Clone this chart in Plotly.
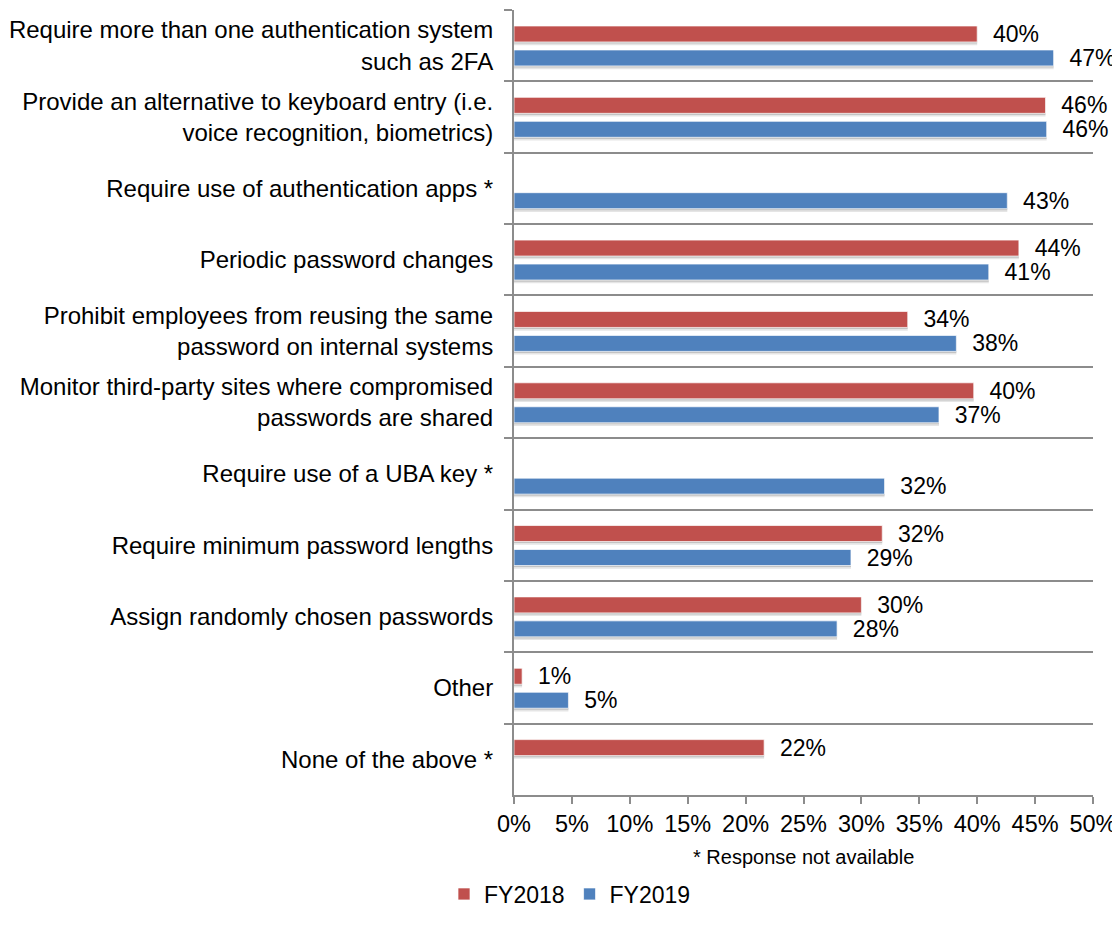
import plotly.graph_objects as go

categories = [
    "Require more than one authentication system<br>such as 2FA",
    "Provide an alternative to keyboard entry (i.e.<br>voice recognition, biometrics)",
    "Require use of authentication apps *",
    "Periodic password changes",
    "Prohibit employees from reusing the same<br>password on internal systems",
    "Monitor third-party sites where compromised<br>passwords are shared",
    "Require use of a UBA key *",
    "Require minimum password lengths",
    "Assign randomly chosen passwords",
    "Other",
    "None of the above *",
]
fy2018 = [40.0, 45.9, None, 43.6, 34.0, 39.7, None, 31.8, 30.0, 0.7, 21.6]
fy2019 = [46.6, 46.0, 42.6, 41.0, 38.2, 36.7, 32.0, 29.1, 27.9, 4.7, None]
x_ticks = [0, 5, 10, 15, 20, 25, 30, 35, 40, 45, 50]
x_tick_labels = [f"{t}%" for t in x_ticks]

RED = "#C0504D"
BLUE = "#4F81BD"
GRID = "#8C8C8C"
FONT = "Liberation Sans, Arial, sans-serif"

BAR_W = 0.224
RED_OFF = -0.276
BLUE_OFF = 0.06
SH = 0.045

W, H = 1112, 926

fig = go.Figure()

# soft shadows
for vals, off in ((fy2018, RED_OFF), (fy2019, BLUE_OFF)):
    for dy, col in ((SH, "rgba(0,0,0,0.10)"), (SH * 0.5, "rgba(0,0,0,0.15)")):
        fig.add_trace(go.Bar(
            y=categories, x=vals, orientation="h",
            offset=off + dy, width=BAR_W,
            marker=dict(color=col, line=dict(width=0)),
            showlegend=False, hoverinfo="skip",
        ))

for name, vals, off, col in (("FY2018", fy2018, RED_OFF, RED),
                             ("FY2019", fy2019, BLUE_OFF, BLUE)):
    fig.add_trace(go.Bar(
        name=name, y=categories, x=vals, orientation="h",
        offset=off, width=BAR_W,
        marker=dict(color=col, line=dict(color="rgba(255,255,255,0.7)", width=1)),
        text=[("\u00a0\u00a0" + f"{v:.0f}%") if v is not None else "" for v in vals],
        textposition="outside", constraintext="none", cliponaxis=False,
        textfont=dict(size=23, color="#000000", family=FONT),
    ))

fig.update_layout(
    width=W, height=H,
    margin=dict(l=506, r=27, t=2, b=139, autoexpand=False),
    barmode="overlay",
    plot_bgcolor="white", paper_bgcolor="white",
    font=dict(family=FONT, size=24, color="#000000"),
    showlegend=True,
    legend=dict(orientation="h", x=562 / W, xref="container", xanchor="center",
                y=(H - 886) / H, yref="container", yanchor="middle",
                traceorder="normal", font=dict(size=23), itemwidth=30),
    xaxis=dict(range=[0, 50], tickvals=x_ticks, ticktext=x_tick_labels,
               showgrid=False, zeroline=False, showline=True, linecolor=GRID,
               linewidth=2, ticks="outside", ticklen=7, tickwidth=2,
               tickcolor=GRID, tickfont=dict(size=23.5)),
    yaxis=dict(categoryorder="array", categoryarray=categories,
               range=[10.5, -0.5], tickson="boundaries", ticks="outside",
               ticklen=8, tickwidth=2, tickcolor=GRID, showgrid=True,
               gridcolor=GRID, gridwidth=2, showline=True, linecolor=GRID,
               linewidth=2, zeroline=False, tickfont=dict(size=24),
               ticklabelstandoff=14),
    annotations=[dict(text="* Response not available", x=0.5, xref="paper",
                      y=(787 - 849) / 785, yref="paper", yanchor="middle",
                      showarrow=False, font=dict(size=20))],
)

fig.write_html("out.html")
